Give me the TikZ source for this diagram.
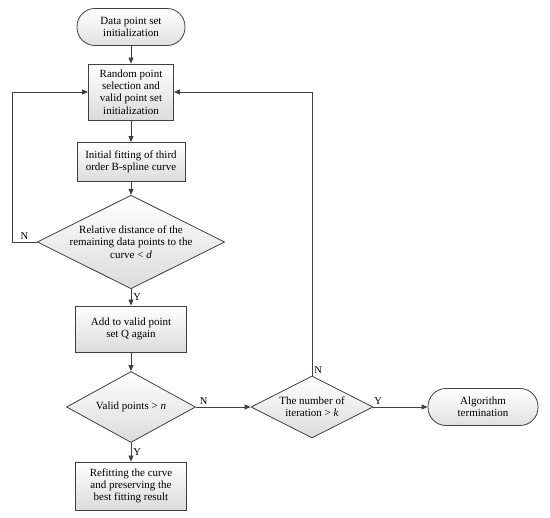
\documentclass[tikz,border=0pt]{standalone}
\usepackage{fontspec}
\setmainfont{Liberation Serif}
\usetikzlibrary{arrows.meta, shapes.geometric}
\definecolor{cline}{HTML}{404040}
\tikzset{
  every picture/.style={line width=0.8pt},
  term/.style={draw=cline, rounded corners=18pt, top color=white, bottom color=black!12, align=center, minimum width=108pt, minimum height=37pt, inner sep=2pt},
  proc/.style={draw=cline, top color=white, bottom color=black!14, align=center, inner sep=2pt},
  decision/.style={diamond, draw=cline, top color=white, bottom color=black!14, align=center, inner sep=0pt, aspect=2},
  arrow/.style={-{Triangle[length=6pt, width=5pt]}, draw=cline},
  lbl/.style={font=\fontsize{10.5}{12}\selectfont, inner sep=2pt},
}

\begin{document}
\begin{tikzpicture}[x=1pt, y=-1pt, font=\fontsize{11}{12.2}\selectfont]
  \useasboundingbox (0,0) rectangle (550,518);
  \node[term] (start) at (131,27) {Data point set\\initialization};
  \node[proc, minimum width=85pt, minimum height=56pt] (select) at (131,92) {Random point\\selection and\\valid point set\\initialization};
  \node[proc, minimum width=108pt, minimum height=39pt] (fit) at (131,162) {Initial fitting of third\\order B-spline curve};
  \node[decision, minimum width=182pt, minimum height=90pt] (dist) at (131,242) {Relative distance of the\\remaining data points to the\\curve < \textit{d}};
  \node[proc, minimum width=111pt, minimum height=46pt] (add) at (131,329) {Add to valid point\\set Q again};
  \node[decision, minimum width=129pt, minimum height=71pt] (valid) at (131,407) {Valid points > \textit{n}};
  \node[proc, minimum width=111pt, minimum height=48pt] (refit) at (131,486) {Refitting the curve\\and preserving the\\best fitting result};
  \node[decision, minimum width=122pt, minimum height=62pt] (iter) at (312,407) {The number of\\iteration > \textit{k}};
  \node[term, minimum width=110pt] (stop) at (483,407) {Algorithm\\termination};

  \draw[arrow] (start) -- (select);
  \draw[arrow] (select) -- (fit);
  \draw[arrow] (fit) -- (dist);
  \draw[arrow] (dist) -- node[lbl, right] {Y} (add);
  \draw[arrow] (add) -- (valid);
  \draw[arrow] (valid) -- node[lbl, right] {Y} (refit);
  \draw[arrow] (valid) -- node[lbl, above, pos=0.14] {N} (iter);
  \draw[arrow] (iter) -- node[lbl, above, pos=0.09] {Y} (stop);
  \draw[arrow] (dist.west) -- node[lbl, above] {N} ++(-25,0) |- (select.west);
  \draw[arrow] (iter.north) |- (select.east);
  \node[lbl, above right] (iterN) at (iter.north) {N};
\end{tikzpicture}
\end{document}
